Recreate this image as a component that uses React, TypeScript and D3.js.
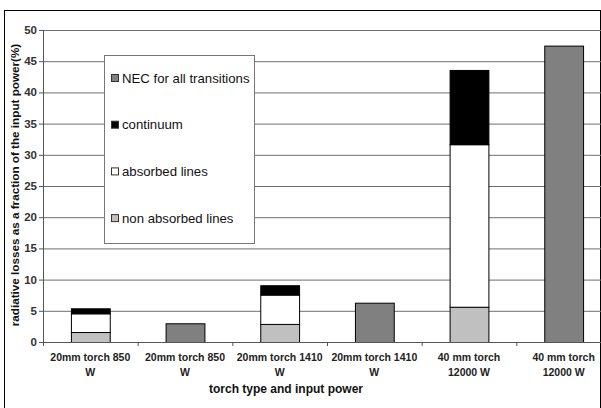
import React from "react";
import * as d3 from "d3";

const categories = ["c1", "c2", "c3", "c4", "c5", "c6"];
const labelLine1 = ["20mm torch 850", "20mm torch 850", "20mm torch 1410", "20mm torch 1410", "40 mm torch", "40 mm torch"];
const labelLine2 = ["W", "W", "W", "W", "12000 W", "12000 W"];
const nonAbsorbed = [1.6, 0, 2.9, 0, 5.65, 0];
const absorbed = [3.0, 0, 4.7, 0, 26.05, 0];
const continuum = [0.8, 0, 1.5, 0, 11.9, 0];
const nec = [0, 3.0, 0, 6.3, 0, 47.5];
const yTicks = [0, 5, 10, 15, 20, 25, 30, 35, 40, 45, 50];
const seriesNames = ["non absorbed lines", "absorbed lines", "continuum", "NEC for all transitions"];
const legendOrder = ["NEC for all transitions", "continuum", "absorbed lines", "non absorbed lines"];
const colors: Record<string, string> = {
  "non absorbed lines": "#c0c0c0",
  "absorbed lines": "#ffffff",
  continuum: "#000000",
  "NEC for all transitions": "#808080",
};

export default function App() {
  const W = 601, H = 408;
  const left = 43, right = 611, top = 30, bottom = 342;
  const x = d3.scaleBand<string>().domain(categories).range([left, right]).paddingInner(0.59).paddingOuter(0.295);
  const y = d3.scaleLinear().domain([0, 50]).range([bottom, top]);
  const rows = categories.map((c, i) => ({
    cat: c,
    "non absorbed lines": nonAbsorbed[i],
    "absorbed lines": absorbed[i],
    continuum: continuum[i],
    "NEC for all transitions": nec[i],
  }));
  const stack = d3.stack<any>().keys(seriesNames)(rows);
  const step = (right - left) / categories.length;
  const font = "Arial, 'Liberation Sans', sans-serif";
  return (
    <svg width={W} height={H} style={{ position: "absolute", left: 0, top: 0 }} fontFamily={font}>
      <rect x={0} y={0} width={W} height={H} fill="#fff" />
      <rect x={4.5} y={10.5} width={596} height={420} fill="none" stroke="#000" strokeWidth={1} />
      {yTicks.filter((t) => t > 0).map((t) => (
        <line key={t} x1={left} x2={right} y1={y(t) + 0.5} y2={y(t) + 0.5} stroke="#6e6e6e" strokeWidth={1} />
      ))}
      {stack.map((s) =>
        s.map((d, i) =>
          d[1] - d[0] > 0 ? (
            <rect
              key={s.key + i}
              x={x(categories[i])! + 0.5}
              y={y(d[1]) + 0.5}
              width={x.bandwidth()}
              height={y(d[0]) - y(d[1])}
              fill={colors[s.key]}
              stroke="#000"
              strokeWidth={1}
            />
          ) : null
        )
      )}
      <line x1={left + 0.5} x2={left + 0.5} y1={top} y2={bottom} stroke="#555" />
      <line x1={left} x2={right} y1={bottom + 0.5} y2={bottom + 0.5} stroke="#555" />
      {yTicks.map((t) => (
        <g key={t}>
          <line x1={left - 4} x2={left} y1={y(t) + 0.5} y2={y(t) + 0.5} stroke="#555" />
          <text x={left - 6} y={y(t) + 4} textAnchor="end" fontSize={11.5} fontWeight="bold" fill="#333">
            {t}
          </text>
        </g>
      ))}
      {d3.range(categories.length + 1).map((i) => (
        <line key={i} x1={left + i * step + 0.5} x2={left + i * step + 0.5} y1={bottom} y2={bottom + 4} stroke="#555" />
      ))}
      {categories.map((c, i) => (
        <g key={c}>
          <text x={x(c)! + x.bandwidth() / 2} y={361} textAnchor="middle" fontSize={10.5} fontWeight="bold" fill="#222">
            {labelLine1[i]}
          </text>
          <text x={x(c)! + x.bandwidth() / 2} y={376} textAnchor="middle" fontSize={10.5} fontWeight="bold" fill="#222">
            {labelLine2[i]}
          </text>
        </g>
      ))}
      <text x={286} y={393} textAnchor="middle" fontSize={12} fontWeight="bold" fill="#111">
        torch type and input power
      </text>
      <text
        transform={`translate(19, ${(top + bottom) / 2 - 1}) rotate(-90)`}
        textAnchor="middle"
        fontSize={11.7}
        fontWeight="bold"
        fill="#111"
      >
        radiative losses as a fraction of the input power(%)
      </text>
      <rect x={104.5} y={55.5} width={150} height={188} fill="#fff" stroke="#777" />
      {legendOrder.map((k, i) => {
        const cy = 78 + i * 46.7;
        return (
          <g key={k}>
            <rect x={111.5} y={cy - 3.5} width={7} height={7} fill={colors[k]} stroke="#333" />
            <text x={122} y={cy + 4.5} fontSize={13.2} fill="#111">
              {k}
            </text>
          </g>
        );
      })}
    </svg>
  );
}
